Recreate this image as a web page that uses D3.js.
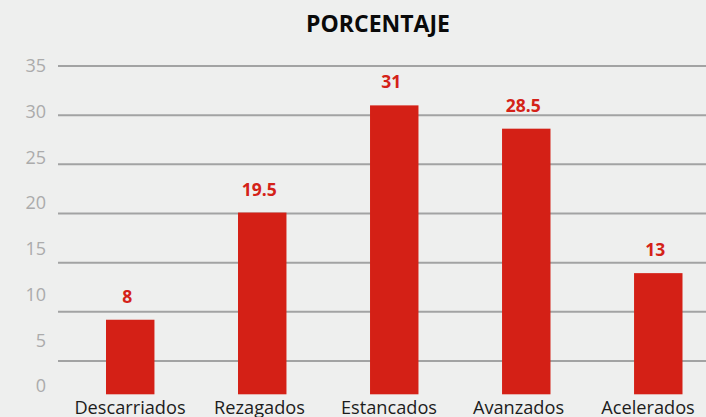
<!DOCTYPE html>
<html>
<head>
<meta charset="utf-8">
<script src="https://cdn.jsdelivr.net/npm/d3@7/dist/d3.min.js"></script>
<style>
  html, body { margin: 0; padding: 0; background: #eeefee; }
  svg { display: block; }
  text { font-family: "Open Sans", sans-serif; }
</style>
</head>
<body>
<svg id="chart" width="706" height="417"></svg>
<script>
// Data
const categories = ["Descarriados", "Rezagados", "Estancados", "Avanzados", "Acelerados"];
const values = [8, 19.5, 31, 28.5, 13];
const tickValues = [0, 5, 10, 15, 20, 25, 30, 35];
const title = "PORCENTAJE";

const W = 706, H = 417;
const svg = d3.select("#chart");

// Scales
const x = d3.scaleBand()
  .domain(categories)
  .range([106, 682.5])
  .paddingInner(0.633)
  .paddingOuter(0);

const xLabel = d3.scalePoint()
  .domain(categories)
  .range([130, 648]);

const yBar = d3.scaleLinear().domain([0, 35]).range([394.3, 68.1]);
const yGrid = d3.scaleLinear().domain([0, 35]).range([410.2, 66]);
const yTick = d3.scaleLinear().domain([0, 35]).range([386, 66]);

// Gridlines
svg.append("g")
  .selectAll("line")
  .data(tickValues.filter(d => d > 0))
  .join("line")
  .attr("x1", 58)
  .attr("x2", W)
  .attr("y1", d => yGrid(d))
  .attr("y2", d => yGrid(d))
  .attr("stroke", "#a2a3a3")
  .attr("stroke-width", 2);

// Y tick labels
const yAxis = d3.axisLeft(yTick)
  .tickValues(tickValues)
  .tickSize(0)
  .tickPadding(0);
const gy = svg.append("g")
  .attr("transform", "translate(46,0)")
  .call(yAxis);
gy.select(".domain").remove();
gy.selectAll("text")
  .attr("fill", "#ababab")
  .style("font-family", "'Open Sans', sans-serif")
  .style("font-size", "18px");

// Bars
svg.append("g")
  .selectAll("rect")
  .data(values)
  .join("rect")
  .attr("x", (d, i) => x(categories[i]))
  .attr("y", d => yBar(d))
  .attr("width", x.bandwidth())
  .attr("height", d => yBar(0) - yBar(d))
  .attr("fill", "#d42016");

// Value labels
svg.append("g")
  .selectAll("text")
  .data(values)
  .join("text")
  .attr("x", (d, i) => x(categories[i]) + x.bandwidth() / 2 - 3)
  .attr("y", d => yBar(d) - 17)
  .attr("text-anchor", "middle")
  .attr("fill", "#d42218")
  .style("font-weight", "700")
  .style("font-size", "17.5px")
  .text(d => d);

// Category labels
svg.append("g")
  .selectAll("text")
  .data(categories)
  .join("text")
  .attr("x", d => xLabel(d))
  .attr("y", 414)
  .attr("text-anchor", "middle")
  .attr("fill", "#1c1c1c")
  .style("font-size", "18.2px")
  .text(d => d);

// Title
svg.append("text")
  .attr("x", 378)
  .attr("y", 32)
  .attr("text-anchor", "middle")
  .attr("fill", "#0a0a0a")
  .style("font-weight", "700")
  .style("font-size", "23px")
  .text(title);
</script>
</body>
</html>
